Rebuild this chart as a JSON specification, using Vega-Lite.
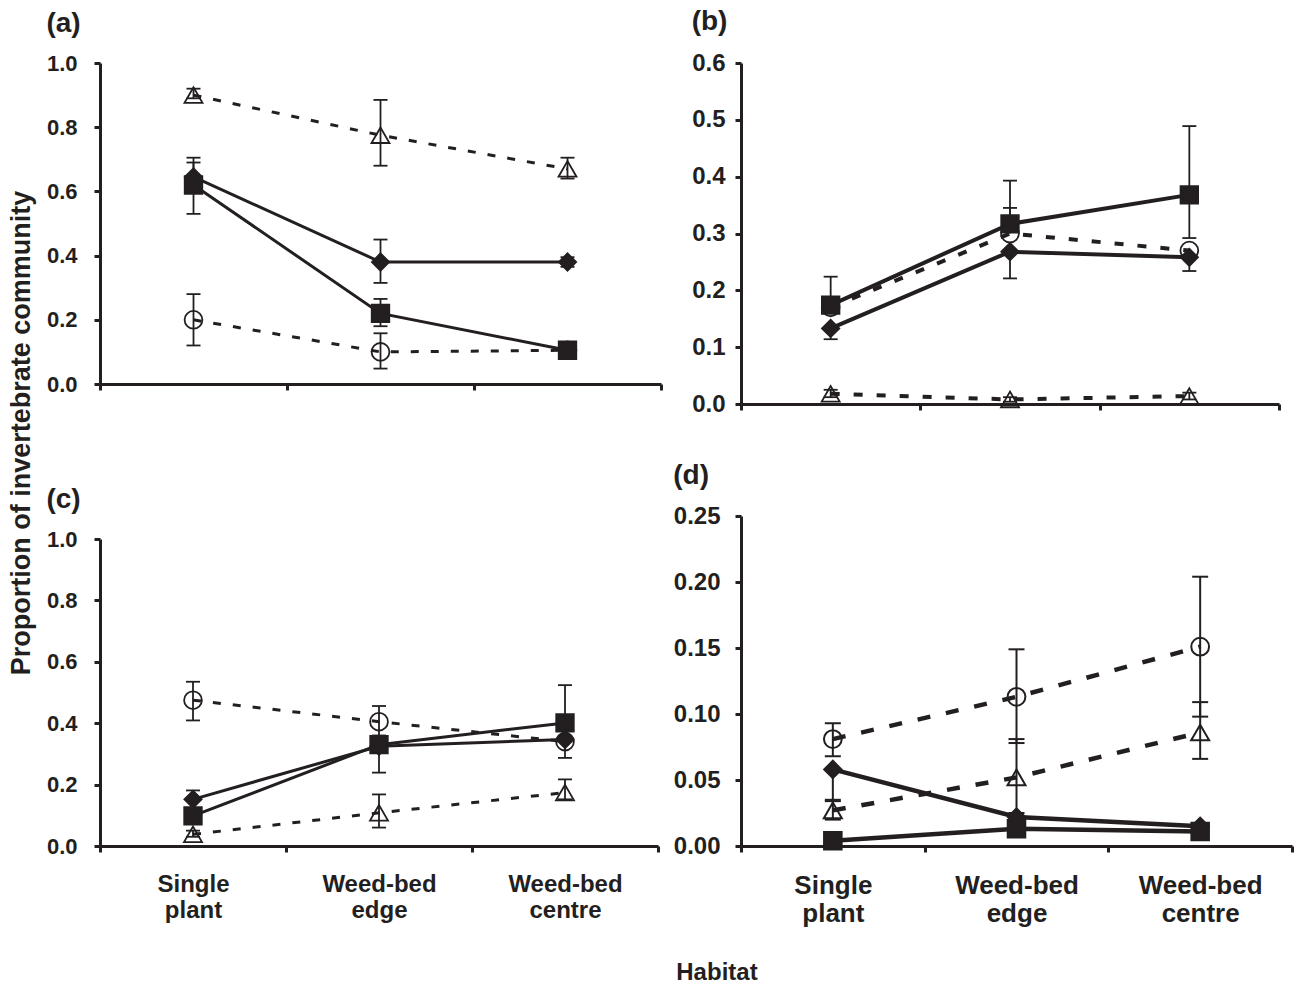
{
  "$schema": "https://vega.github.io/schema/vega-lite/v6.json",
  "background": "white",
  "padding": {"left": 8, "top": 8, "right": 2, "bottom": 2},
  "datasets": {
    "a": [
      {"habitat": "Single plant", "series": "Series 1", "value": 0.645, "lo": 0.645, "hi": 0.705},
      {"habitat": "Weed-bed edge", "series": "Series 1", "value": 0.38, "lo": 0.315, "hi": 0.45},
      {"habitat": "Weed-bed centre", "series": "Series 1", "value": 0.38, "lo": 0.365, "hi": 0.395},
      {"habitat": "Single plant", "series": "Series 2", "value": 0.62, "lo": 0.53, "hi": 0.69},
      {"habitat": "Weed-bed edge", "series": "Series 2", "value": 0.22, "lo": 0.18, "hi": 0.265},
      {"habitat": "Weed-bed centre", "series": "Series 2", "value": 0.105, "lo": 0.08, "hi": 0.13},
      {"habitat": "Single plant", "series": "Series 3", "value": 0.2, "lo": 0.12, "hi": 0.28},
      {"habitat": "Weed-bed edge", "series": "Series 3", "value": 0.1, "lo": 0.048, "hi": 0.158},
      {"habitat": "Weed-bed centre", "series": "Series 3", "value": 0.105, "lo": 0.09, "hi": 0.12},
      {"habitat": "Single plant", "series": "Series 4", "value": 0.9, "lo": 0.89, "hi": 0.92},
      {"habitat": "Weed-bed edge", "series": "Series 4", "value": 0.775, "lo": 0.68, "hi": 0.885},
      {"habitat": "Weed-bed centre", "series": "Series 4", "value": 0.67, "lo": 0.64, "hi": 0.705}
    ],
    "b": [
      {"habitat": "Single plant", "series": "Series 1", "value": 0.133, "lo": 0.114, "hi": 0.133},
      {"habitat": "Weed-bed edge", "series": "Series 1", "value": 0.268, "lo": 0.221, "hi": 0.268},
      {"habitat": "Weed-bed centre", "series": "Series 1", "value": 0.258, "lo": 0.234, "hi": 0.258},
      {"habitat": "Single plant", "series": "Series 2", "value": 0.174, "lo": 0.174, "hi": 0.224},
      {"habitat": "Weed-bed edge", "series": "Series 2", "value": 0.317, "lo": 0.317, "hi": 0.393},
      {"habitat": "Weed-bed centre", "series": "Series 2", "value": 0.368, "lo": 0.292, "hi": 0.489},
      {"habitat": "Single plant", "series": "Series 3", "value": 0.17, "lo": 0.17, "hi": 0.17},
      {"habitat": "Weed-bed edge", "series": "Series 3", "value": 0.3, "lo": 0.3, "hi": 0.345},
      {"habitat": "Weed-bed centre", "series": "Series 3", "value": 0.27, "lo": 0.27, "hi": 0.27},
      {"habitat": "Single plant", "series": "Series 4", "value": 0.018, "lo": 0.012, "hi": 0.025},
      {"habitat": "Weed-bed edge", "series": "Series 4", "value": 0.008, "lo": 0.004, "hi": 0.012},
      {"habitat": "Weed-bed centre", "series": "Series 4", "value": 0.014, "lo": 0.008, "hi": 0.02}
    ],
    "c": [
      {"habitat": "Single plant", "series": "Series 1", "value": 0.152, "lo": 0.152, "hi": 0.181},
      {"habitat": "Weed-bed edge", "series": "Series 1", "value": 0.325, "lo": 0.325, "hi": 0.325},
      {"habitat": "Weed-bed centre", "series": "Series 1", "value": 0.347, "lo": 0.347, "hi": 0.347},
      {"habitat": "Single plant", "series": "Series 2", "value": 0.098, "lo": 0.098, "hi": 0.098},
      {"habitat": "Weed-bed edge", "series": "Series 2", "value": 0.33, "lo": 0.239, "hi": 0.33},
      {"habitat": "Weed-bed centre", "series": "Series 2", "value": 0.401, "lo": 0.401, "hi": 0.524},
      {"habitat": "Single plant", "series": "Series 3", "value": 0.475, "lo": 0.409, "hi": 0.535},
      {"habitat": "Weed-bed edge", "series": "Series 3", "value": 0.405, "lo": 0.36, "hi": 0.456},
      {"habitat": "Weed-bed centre", "series": "Series 3", "value": 0.34, "lo": 0.287, "hi": 0.34},
      {"habitat": "Single plant", "series": "Series 4", "value": 0.038, "lo": 0.03, "hi": 0.05},
      {"habitat": "Weed-bed edge", "series": "Series 4", "value": 0.108, "lo": 0.06, "hi": 0.168},
      {"habitat": "Weed-bed centre", "series": "Series 4", "value": 0.174, "lo": 0.152, "hi": 0.217}
    ],
    "d": [
      {"habitat": "Single plant", "series": "Series 1", "value": 0.058, "lo": 0.035, "hi": 0.058},
      {"habitat": "Weed-bed edge", "series": "Series 1", "value": 0.022, "lo": 0.022, "hi": 0.022},
      {"habitat": "Weed-bed centre", "series": "Series 1", "value": 0.015, "lo": 0.015, "hi": 0.015},
      {"habitat": "Single plant", "series": "Series 2", "value": 0.004, "lo": 0.004, "hi": 0.004},
      {"habitat": "Weed-bed edge", "series": "Series 2", "value": 0.013, "lo": 0.013, "hi": 0.013},
      {"habitat": "Weed-bed centre", "series": "Series 2", "value": 0.011, "lo": 0.011, "hi": 0.011},
      {"habitat": "Single plant", "series": "Series 3", "value": 0.081, "lo": 0.068, "hi": 0.093},
      {"habitat": "Weed-bed edge", "series": "Series 3", "value": 0.113, "lo": 0.078, "hi": 0.149},
      {"habitat": "Weed-bed centre", "series": "Series 3", "value": 0.151, "lo": 0.098, "hi": 0.204},
      {"habitat": "Single plant", "series": "Series 4", "value": 0.027, "lo": 0.02, "hi": 0.034},
      {"habitat": "Weed-bed edge", "series": "Series 4", "value": 0.052, "lo": 0.025, "hi": 0.081},
      {"habitat": "Weed-bed centre", "series": "Series 4", "value": 0.086, "lo": 0.066, "hi": 0.109}
    ]
  },
  "config": {
    "view": {"stroke": null},
    "font": "Liberation Sans",
    "axis": {
      "grid": false,
      "domainColor": "#231f20",
      "domainWidth": 3,
      "tickColor": "#231f20",
      "tickWidth": 3,
      "tickSize": 6,
      "labelFont": "Liberation Sans",
      "labelFontWeight": "bold",
      "labelColor": "#231f20"
    },
    "title": {"font": "Liberation Sans", "fontWeight": "bold", "color": "#231f20"}
  },
  "title": {"text": "Habitat", "orient": "bottom", "anchor": "middle", "fontSize": 24, "offset": 35, "dx": 66},
  "vconcat": [
    {
      "title": {"text": "Proportion of invertebrate community", "orient": "left", "anchor": "middle", "fontSize": 27, "offset": 10, "dx": 34},
      "spacing": 10,
      "hconcat": [
        {
          "spacing": 91,
          "vconcat": [
            {
              "width": 561, "height": 321,
              "data": {"name": "a"},
              "title": {"text": "(a)", "anchor": "start", "frame": "bounds", "fontSize": 28, "offset": 14},
              "encoding": {
                "x": {"field": "habitat", "type": "nominal", "sort": ["Single plant", "Weed-bed edge", "Weed-bed centre"], "scale": {"paddingInner": 0, "paddingOuter": 0}, "axis": {"labels": false, "tickBand": "extent", "title": null}},
                "y": {"field": "value", "type": "quantitative", "scale": {"domain": [0, 1], "nice": false}, "axis": {"title": null, "values": [0, 0.2, 0.4, 0.6, 0.8, 1.0], "format": ".1f", "labelFontSize": 22, "labelPadding": 17}}
              },
              "layer": [
                {"transform": [{"filter": "datum.series === 'Series 1' || datum.series === 'Series 2'"}], "mark": {"type": "line", "strokeWidth": 3, "color": "#231f20"}, "encoding": {"detail": {"field": "series"}}},
                {"transform": [{"filter": "datum.series === 'Series 3' || datum.series === 'Series 4'"}], "mark": {"type": "line", "strokeWidth": 3, "color": "#231f20", "strokeDash": [8, 12]}, "encoding": {"detail": {"field": "series"}}},
                {"mark": {"type": "rule", "strokeWidth": 1.8, "color": "#231f20"}, "encoding": {"y": {"field": "lo", "type": "quantitative"}, "y2": {"field": "hi"}}},
                {"transform": [{"filter": "datum.lo < datum.value"}], "mark": {"type": "tick", "thickness": 1.8, "size": 14, "color": "#231f20", "opacity": 1}, "encoding": {"y": {"field": "lo", "type": "quantitative"}}},
                {"transform": [{"filter": "datum.hi > datum.value"}], "mark": {"type": "tick", "thickness": 1.8, "size": 14, "color": "#231f20", "opacity": 1}, "encoding": {"y": {"field": "hi", "type": "quantitative"}}},
                {"mark": {"type": "point", "opacity": 1, "stroke": "#231f20", "strokeWidth": 1.8}, "encoding": {
                  "shape": {"field": "series", "type": "nominal", "scale": {"domain": ["Series 1", "Series 2", "Series 3", "Series 4"], "range": ["diamond", "square", "circle", "triangle-up"]}, "legend": null},
                  "fill": {"field": "series", "type": "nominal", "scale": {"domain": ["Series 1", "Series 2", "Series 3", "Series 4"], "range": ["#231f20", "#231f20", "transparent", "transparent"]}, "legend": null},
                  "size": {"field": "series", "type": "nominal", "scale": {"domain": ["Series 1", "Series 2", "Series 3", "Series 4"], "range": [300, 324, 256, 289]}, "legend": null}}}
              ]
            },
            {
              "width": 558, "height": 307,
              "data": {"name": "c"},
              "title": {"text": "(c)", "anchor": "start", "frame": "bounds", "fontSize": 28, "offset": 14},
              "encoding": {
                "x": {"field": "habitat", "type": "nominal", "sort": ["Single plant", "Weed-bed edge", "Weed-bed centre"], "scale": {"paddingInner": 0, "paddingOuter": 0}, "axis": {"labelExpr": "split(datum.label, ' ')", "labelFontSize": 24, "labelLineHeight": 26, "labelPadding": 20, "labelAngle": 0, "tickBand": "extent", "title": null}},
                "y": {"field": "value", "type": "quantitative", "scale": {"domain": [0, 1], "nice": false}, "axis": {"title": null, "values": [0, 0.2, 0.4, 0.6, 0.8, 1.0], "format": ".1f", "labelFontSize": 22, "labelPadding": 17}}
              },
              "layer": [
                {"transform": [{"filter": "datum.series === 'Series 1' || datum.series === 'Series 2'"}], "mark": {"type": "line", "strokeWidth": 3, "color": "#231f20"}, "encoding": {"detail": {"field": "series"}}},
                {"transform": [{"filter": "datum.series === 'Series 3' || datum.series === 'Series 4'"}], "mark": {"type": "line", "strokeWidth": 3, "color": "#231f20", "strokeDash": [8, 12]}, "encoding": {"detail": {"field": "series"}}},
                {"mark": {"type": "rule", "strokeWidth": 1.8, "color": "#231f20"}, "encoding": {"y": {"field": "lo", "type": "quantitative"}, "y2": {"field": "hi"}}},
                {"transform": [{"filter": "datum.lo < datum.value"}], "mark": {"type": "tick", "thickness": 1.8, "size": 14, "color": "#231f20", "opacity": 1}, "encoding": {"y": {"field": "lo", "type": "quantitative"}}},
                {"transform": [{"filter": "datum.hi > datum.value"}], "mark": {"type": "tick", "thickness": 1.8, "size": 14, "color": "#231f20", "opacity": 1}, "encoding": {"y": {"field": "hi", "type": "quantitative"}}},
                {"mark": {"type": "point", "opacity": 1, "stroke": "#231f20", "strokeWidth": 1.8}, "encoding": {
                  "shape": {"field": "series", "type": "nominal", "scale": {"domain": ["Series 1", "Series 2", "Series 3", "Series 4"], "range": ["diamond", "square", "circle", "triangle-up"]}, "legend": null},
                  "fill": {"field": "series", "type": "nominal", "scale": {"domain": ["Series 1", "Series 2", "Series 3", "Series 4"], "range": ["#231f20", "#231f20", "transparent", "transparent"]}, "legend": null},
                  "size": {"field": "series", "type": "nominal", "scale": {"domain": ["Series 1", "Series 2", "Series 3", "Series 4"], "range": [300, 324, 256, 289]}, "legend": null}}}
              ]
            }
          ]
        },
        {
          "spacing": 46,
          "vconcat": [
            {
              "width": 538, "height": 341,
              "data": {"name": "b"},
              "title": {"text": "(b)", "anchor": "start", "frame": "bounds", "fontSize": 28, "offset": 15},
              "encoding": {
                "x": {"field": "habitat", "type": "nominal", "sort": ["Single plant", "Weed-bed edge", "Weed-bed centre"], "scale": {"paddingInner": 0, "paddingOuter": 0}, "axis": {"labels": false, "tickBand": "extent", "title": null}},
                "y": {"field": "value", "type": "quantitative", "scale": {"domain": [0, 0.6], "nice": false}, "axis": {"title": null, "values": [0, 0.1, 0.2, 0.3, 0.4, 0.5, 0.6], "format": ".1f", "labelFontSize": 24, "labelPadding": 10}}
              },
              "layer": [
                {"transform": [{"filter": "datum.series === 'Series 1' || datum.series === 'Series 2'"}], "mark": {"type": "line", "strokeWidth": 4, "color": "#231f20"}, "encoding": {"detail": {"field": "series"}}},
                {"transform": [{"filter": "datum.series === 'Series 3' || datum.series === 'Series 4'"}], "mark": {"type": "line", "strokeWidth": 4, "color": "#231f20", "strokeDash": [9, 14]}, "encoding": {"detail": {"field": "series"}}},
                {"mark": {"type": "rule", "strokeWidth": 1.8, "color": "#231f20"}, "encoding": {"y": {"field": "lo", "type": "quantitative"}, "y2": {"field": "hi"}}},
                {"transform": [{"filter": "datum.lo < datum.value"}], "mark": {"type": "tick", "thickness": 1.8, "size": 14, "color": "#231f20", "opacity": 1}, "encoding": {"y": {"field": "lo", "type": "quantitative"}}},
                {"transform": [{"filter": "datum.hi > datum.value"}], "mark": {"type": "tick", "thickness": 1.8, "size": 14, "color": "#231f20", "opacity": 1}, "encoding": {"y": {"field": "hi", "type": "quantitative"}}},
                {"mark": {"type": "point", "opacity": 1, "stroke": "#231f20", "strokeWidth": 1.8}, "encoding": {
                  "shape": {"field": "series", "type": "nominal", "scale": {"domain": ["Series 1", "Series 2", "Series 3", "Series 4"], "range": ["diamond", "square", "circle", "triangle-up"]}, "legend": null},
                  "fill": {"field": "series", "type": "nominal", "scale": {"domain": ["Series 1", "Series 2", "Series 3", "Series 4"], "range": ["#231f20", "#231f20", "transparent", "transparent"]}, "legend": null},
                  "size": {"field": "series", "type": "nominal", "scale": {"domain": ["Series 1", "Series 2", "Series 3", "Series 4"], "range": [361, 484, 324, 361]}, "legend": null}}}
              ]
            },
            {
              "width": 551, "height": 330,
              "data": {"name": "d"},
              "title": {"text": "(d)", "anchor": "start", "frame": "bounds", "fontSize": 28, "offset": 14},
              "encoding": {
                "x": {"field": "habitat", "type": "nominal", "sort": ["Single plant", "Weed-bed edge", "Weed-bed centre"], "scale": {"paddingInner": 0, "paddingOuter": 0}, "axis": {"labelExpr": "split(datum.label, ' ')", "labelFontSize": 26, "labelLineHeight": 28, "labelPadding": 20, "labelAngle": 0, "tickBand": "extent", "title": null}},
                "y": {"field": "value", "type": "quantitative", "scale": {"domain": [0, 0.25], "nice": false}, "axis": {"title": null, "values": [0, 0.05, 0.1, 0.15, 0.2, 0.25], "format": ".2f", "labelFontSize": 24, "labelPadding": 15}}
              },
              "layer": [
                {"transform": [{"filter": "datum.series === 'Series 1' || datum.series === 'Series 2'"}], "mark": {"type": "line", "strokeWidth": 4.5, "color": "#231f20"}, "encoding": {"detail": {"field": "series"}}},
                {"transform": [{"filter": "datum.series === 'Series 3' || datum.series === 'Series 4'"}], "mark": {"type": "line", "strokeWidth": 4.5, "color": "#231f20", "strokeDash": [13, 16]}, "encoding": {"detail": {"field": "series"}}},
                {"mark": {"type": "rule", "strokeWidth": 2, "color": "#231f20"}, "encoding": {"y": {"field": "lo", "type": "quantitative"}, "y2": {"field": "hi"}}},
                {"transform": [{"filter": "datum.lo < datum.value"}], "mark": {"type": "tick", "thickness": 2, "size": 16, "color": "#231f20", "opacity": 1}, "encoding": {"y": {"field": "lo", "type": "quantitative"}}},
                {"transform": [{"filter": "datum.hi > datum.value"}], "mark": {"type": "tick", "thickness": 2, "size": 16, "color": "#231f20", "opacity": 1}, "encoding": {"y": {"field": "hi", "type": "quantitative"}}},
                {"mark": {"type": "point", "opacity": 1, "stroke": "#231f20", "strokeWidth": 2}, "encoding": {
                  "shape": {"field": "series", "type": "nominal", "scale": {"domain": ["Series 1", "Series 2", "Series 3", "Series 4"], "range": ["diamond", "square", "circle", "triangle-up"]}, "legend": null},
                  "fill": {"field": "series", "type": "nominal", "scale": {"domain": ["Series 1", "Series 2", "Series 3", "Series 4"], "range": ["#231f20", "#231f20", "transparent", "transparent"]}, "legend": null},
                  "size": {"field": "series", "type": "nominal", "scale": {"domain": ["Series 1", "Series 2", "Series 3", "Series 4"], "range": [400, 484, 441, 441]}, "legend": null}}}
              ]
            }
          ]
        }
      ]
    }
  ]
}
